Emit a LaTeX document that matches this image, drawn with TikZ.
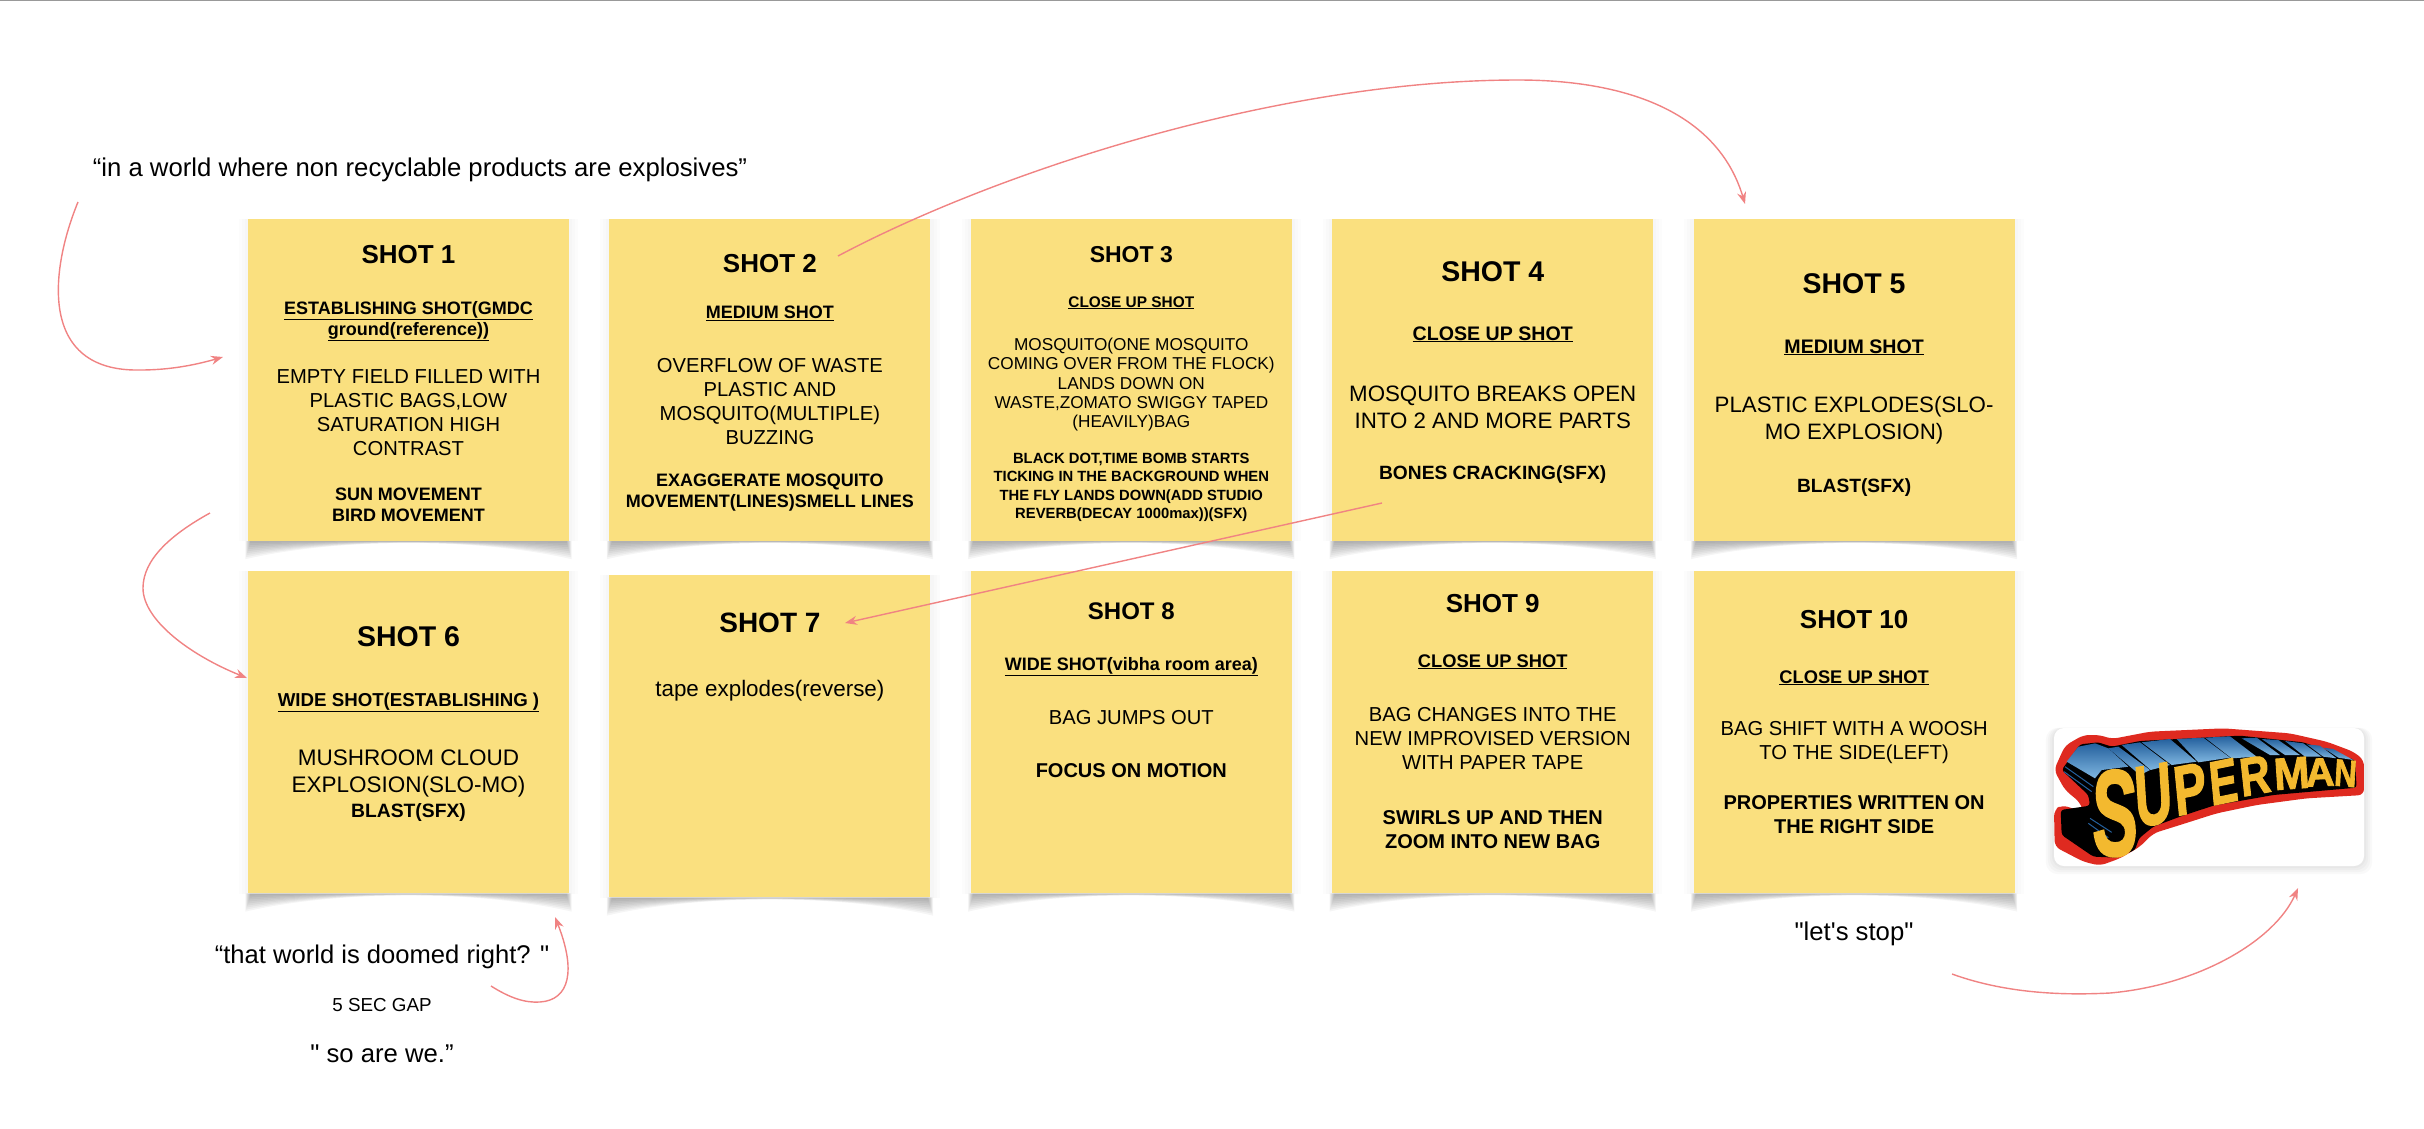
\documentclass[tikz,border=0pt]{standalone}
\usepackage{fontspec}
\setmainfont{Liberation Sans}
\newfontfamily\quotefont{Liberation Sans}
\newfontfamily\logofont{Liberation Sans}[BoldFeatures={FakeBold=2}]
\usetikzlibrary{positioning,calc,arrows.meta,backgrounds}

\definecolor{stickyyellow}{HTML}{FAE07F}
\definecolor{notearrow}{HTML}{F08383}
\definecolor{logored}{HTML}{DF2A20}
\definecolor{logoyellow}{HTML}{F3B92F}
\definecolor{logoblue}{HTML}{25619E}
\definecolor{logosky}{HTML}{7FB6E0}

\tikzset{
  shot/.style={fill=stickyyellow,minimum width=321pt,minimum height=322pt,inner sep=0pt},
  shot-title/.style={font=\bfseries\fontsize{#1}{#1}\selectfont,inner sep=0pt,yshift=-1.5pt},
  shot-kind/.style n args={2}{font=\bfseries\fontsize{#1}{#2}\selectfont,align=center,inner sep=0pt,yshift=-1.5pt},
  shot-body/.style n args={2}{font=\fontsize{#1}{#2}\selectfont,align=center,inner sep=0pt,yshift=-1.5pt},
  shot-sfx/.style n args={2}{font=\bfseries\fontsize{#1}{#2}\selectfont,align=center,inner sep=0pt,yshift=-1.5pt},
  voice/.style={font=\quotefont\fontsize{#1}{#1}\selectfont,inner sep=0pt,yshift=-1.5pt},
  note-arrow/.style={draw=notearrow,line width=1.4pt,-{Stealth[length=12pt,width=9pt]}},
  logo-letter/.style={text=logoyellow,inner sep=0pt,transform shape},
}

\begin{document}
\begin{tikzpicture}[x=1pt,y=-1pt]
\useasboundingbox (0,0) rectangle (2424,1128);
\draw[gray!80,line width=1.5pt] (0,0.5) -- (2424,0.5);

% stickies, first row
\node[shot] (shot1) at (408.5,380) {};
\node[shot,right=40pt of shot1] (shot2) {};
\node[shot,right=40pt of shot2] (shot3) {};
\node[shot,right=40pt of shot3] (shot4) {};
\node[shot,right=40pt of shot4] (shot5) {};
% second row
\node[shot,below=30pt of shot1] (shot6) {};
\node[shot,right=40pt of shot6,yshift=-4pt] (shot7) {};
\node[shot,below=30pt of shot3] (shot8) {};
\node[shot,below=30pt of shot4] (shot9) {};
\node[shot,below=30pt of shot5] (shot10) {};

\begin{scope}[on background layer]
\foreach \s in {shot1,shot2,shot3,shot4,shot5,shot6,shot7,shot8,shot9,shot10} {
  \foreach \g in {3,6,9}
    \fill[black,opacity=0.012] ($(\s.north west)+(-\g,0)$) rectangle ($(\s.south east)+(\g,0)$);
  \foreach \d in {2,4,6,8,10,12,14,16,18}
    \fill[black,opacity=0.04] ($(\s.south west)+(3-0.3*\d,0)$) -- ($(\s.south east)+(-3+0.3*\d,0)$) -- ($(\s.south east)+(-3+0.3*\d,\d)$)
      .. controls ($(\s.south)+(70,-0.2*\d)$) and ($(\s.south)+(-70,-0.2*\d)$) .. ($(\s.south west)+(3-0.3*\d,\d)$) -- cycle;
}
\end{scope}

\node[shot-title=26] (shot1-title) at ($(shot1.north)+(0,34)$) {SHOT 1};
\node[shot-kind={18}{21}] (shot1-kind) at ($(shot1.north)+(0,101)$) {\underline{ESTABLISHING SHOT(GMDC}\\\underline{ground(reference))}};
\node[shot-body={20.2}{24}] (shot1-body) at ($(shot1.north)+(0,192)$) {EMPTY FIELD FILLED WITH\\PLASTIC BAGS,LOW\\SATURATION HIGH\\CONTRAST};
\node[shot-sfx={18}{21}] (shot1-sfx) at ($(shot1.north)+(0,284)$) {SUN MOVEMENT\\BIRD MOVEMENT};

\node[shot-title=26] (shot2-title) at ($(shot2.north)+(0,43.5)$) {SHOT 2};
\node[shot-kind={18}{21}] (shot2-kind) at ($(shot2.north)+(0,93)$) {\underline{MEDIUM SHOT}};
\node[shot-body={20.2}{24}] (shot2-body) at ($(shot2.north)+(0,181)$) {OVERFLOW OF WASTE\\PLASTIC AND\\MOSQUITO(MULTIPLE)\\BUZZING};
\node[shot-sfx={18}{21}] (shot2-sfx) at ($(shot2.north)+(0,272)$) {EXAGGERATE MOSQUITO\\MOVEMENT(LINES)SMELL LINES};

\node[shot-title=23] (shot3-title) at ($(shot3.north)+(0,34)$) {SHOT 3};
\node[shot-kind={15.4}{18}] (shot3-kind) at ($(shot3.north)+(0,82.5)$) {\underline{CLOSE UP SHOT}};
\node[shot-body={17.2}{19.3}] (shot3-body) at ($(shot3.north)+(0,164.5)$) {MOSQUITO(ONE MOSQUITO\\COMING OVER FROM THE FLOCK)\\LANDS DOWN ON\\WASTE,ZOMATO SWIGGY TAPED\\(HEAVILY)BAG};
\node[shot-sfx={14.8}{18.4}] (shot3-sfx) at ($(shot3.north)+(0,267)$) {BLACK DOT,TIME BOMB STARTS\\TICKING IN THE BACKGROUND WHEN\\THE FLY LANDS DOWN(ADD STUDIO\\REVERB(DECAY 1000max))(SFX)};

\node[shot-title=28.5] (shot4-title) at ($(shot4.north)+(0,51)$) {SHOT 4};
\node[shot-kind={19.6}{23}] (shot4-kind) at ($(shot4.north)+(0,114)$) {\underline{CLOSE UP SHOT}};
\node[shot-body={22.3}{26.7}] (shot4-body) at ($(shot4.north)+(0,187)$) {MOSQUITO BREAKS OPEN\\INTO 2 AND MORE PARTS};
\node[shot-sfx={19.2}{23}] (shot4-sfx) at ($(shot4.north)+(0,254)$) {BONES CRACKING(SFX)};

\node[shot-title=28.5] (shot5-title) at ($(shot5.north)+(0,63)$) {SHOT 5};
\node[shot-kind={19.6}{23}] (shot5-kind) at ($(shot5.north)+(0,127)$) {\underline{MEDIUM SHOT}};
\node[shot-body={22.3}{26.7}] (shot5-body) at ($(shot5.north)+(0,200)$) {PLASTIC EXPLODES(SLO-\\MO EXPLOSION)};
\node[shot-sfx={19.2}{23}] (shot5-sfx) at ($(shot5.north)+(0,267)$) {BLAST(SFX)};

\node[shot-title=28.5] (shot6-title) at ($(shot6.north)+(0,63.5)$) {SHOT 6};
\node[shot-kind={18.7}{22}] (shot6-kind) at ($(shot6.north)+(0,129.5)$) {\underline{WIDE SHOT(ESTABLISHING )}};
\node[shot-body={22.5}{27}] (shot6-body) at ($(shot6.north)+(0,201)$) {MUSHROOM CLOUD\\EXPLOSION(SLO-MO)};
\node[shot-sfx={19.3}{23}] (shot6-sfx) at ($(shot6.north)+(0,240)$) {BLAST(SFX)};

\node[shot-title=28] (shot7-title) at ($(shot7.north)+(0,46.5)$) {SHOT 7};
\node[shot-body={22.4}{27}] (shot7-body) at ($(shot7.north)+(0,113.5)$) {tape explodes(reverse)};

\node[shot-title=24] (shot8-title) at ($(shot8.north)+(0,38.5)$) {SHOT 8};
\node[shot-kind={18}{21}] (shot8-kind) at ($(shot8.north)+(0,94)$) {\underline{WIDE SHOT(vibha room area)}};
\node[shot-body={20.2}{24}] (shot8-body) at ($(shot8.north)+(0,145)$) {BAG JUMPS OUT};
\node[shot-sfx={20}{24}] (shot8-sfx) at ($(shot8.north)+(0,198)$) {FOCUS ON MOTION};

\node[shot-title=26] (shot9-title) at ($(shot9.north)+(0,30.5)$) {SHOT 9};
\node[shot-kind={18.3}{22}] (shot9-kind) at ($(shot9.north)+(0,89)$) {\underline{CLOSE UP SHOT}};
\node[shot-body={20.2}{24}] (shot9-body) at ($(shot9.north)+(0,166)$) {BAG CHANGES INTO THE\\NEW IMPROVISED VERSION\\WITH PAPER TAPE};
\node[shot-sfx={20}{24}] (shot9-sfx) at ($(shot9.north)+(0,257)$) {SWIRLS UP AND THEN\\ZOOM INTO NEW BAG};

\node[shot-title=26] (shot10-title) at ($(shot10.north)+(0,46.5)$) {SHOT 10};
\node[shot-kind={18.3}{22}] (shot10-kind) at ($(shot10.north)+(0,105)$) {\underline{CLOSE UP SHOT}};
\node[shot-body={20.2}{24}] (shot10-body) at ($(shot10.north)+(0,170)$) {BAG SHIFT WITH A WOOSH\\TO THE SIDE(LEFT)};
\node[shot-sfx={20}{24}] (shot10-sfx) at ($(shot10.north)+(0,242)$) {PROPERTIES WRITTEN ON\\THE RIGHT SIDE};

% voice over lines
\node[voice=25.7] (line-world) at (420,168) {“in a world where non recyclable products are explosives”};
\node[voice=25.6] (line-doomed) at (382,955) {“that world is doomed right? "};
\node[voice=18.8] (line-gap) at (382,1004) {5 SEC GAP};
\node[voice=25.7] (line-we) at (382,1052) {" so are we.”};
\node[voice=25.7] (line-stop) at (1854,932) {"let's stop"};

% logo card
\node[fill=white,rounded corners=10pt,minimum width=310pt,minimum height=138pt,inner sep=0pt] (logo) at (2209,797) {};
\begin{scope}[on background layer]
\foreach \g in {2,4,6,8}
  \fill[black,opacity=0.025,rounded corners=12pt] ($(logo.north west)+(-\g,0)$) rectangle ($(logo.south east)+(\g,\g)$);
\end{scope}
\begin{scope}[shift={(2040,715)},x=0.3333pt,y=-0.3333pt]
\fill[logored,rounded corners=6pt] (42,165) -- (75,92) -- (130,60) -- (180,60) -- (215,72) -- (330,50) -- (550,40) -- (750,55) -- (860,80) -- (940,110) -- (972,135) -- (972,240) -- (800,250) -- (650,270) -- (530,295) -- (420,330) -- (340,355) -- (300,395) -- (240,430) -- (180,452) -- (130,440) -- (44,395) -- (42,285) -- (65,270) -- (130,290) -- (120,262) -- (75,225) -- cycle;
\fill[black,rounded corners=3pt] (65,165) -- (120,88) -- (175,82) -- (215,95) -- (300,78) -- (600,62) -- (790,82) -- (945,135) -- (950,218) -- (700,240) -- (520,272) -- (420,305) -- (340,335) -- (297,370) -- (285,405) -- (230,428) -- (160,425) -- (65,360) -- (62,285) -- (150,272) -- (145,240) -- cycle;
\foreach \ax/\ay/\bx/\by/\cx/\cy/\dx/\dy in {205/100/235/95/330/165/300/180, 245/90/300/82/390/150/332/165, 305/82/390/72/470/140/395/150, 410/72/490/68/570/128/475/142, 495/68/570/64/650/125/575/130, 605/70/650/68/720/120/690/120, 665/72/715/75/780/120/735/120, 735/78/790/85/845/125/795/125, 800/88/840/92/890/130/850/125, 850/98/880/102/940/135/895/128}
  \shade[top color=logoblue,bottom color=logosky] (\ax,\ay) -- (\bx,\by) -- (\cx,\cy) -- (\dx,\dy) -- cycle;
\shade[top color=logoblue,bottom color=logosky] (80,140) -- (115,95) -- (165,85) -- (205,100) -- (265,155) -- (185,165) -- (165,190) -- cycle;
\foreach \ax/\ay/\bx/\by in {75/155/160/215, 72/170/155/230, 150/310/215/352, 145/325/205/368}
  \draw[logoblue,line width=1pt] (\ax,\ay) -- (\bx,\by);
\foreach \x/\y/\f/\sx/\r/\l in {225/295/122/0.56/0/S, 340/240/86/0.6/6/U, 450/222/70/0.7/8/P, 550/200/62/0.68/8/E, 645/182/54/0.78/8/R, 755/175/45/0.95/4/M, 840/172/40/1.0/2/A, 917/175/38/0.82/-4/N}
  \node[logo-letter,font=\logofont\bfseries\fontsize{\f}{\f}\selectfont,xscale=\sx,rotate=\r] (logo-\l) at (\x,\y) {\l};
\end{scope}

% connectors
\coordinate (world-tail) at (78,202);
\coordinate (world-bend) at (140,370);
\coordinate (world-head) at (223,357);
\coordinate (one-tail) at (210,513);
\coordinate (one-bend) at (143,588);
\coordinate (six-head) at (247,678);
\coordinate (two-tail) at (838,256);
\coordinate (two-bend) at (1518,80);
\coordinate (five-head) at (1745,204);
\coordinate (four-tail) at (1382,503);
\coordinate (seven-head) at (845,623);
\coordinate (gap-tail) at (491,986);
\coordinate (gap-bend) at (540,1002);
\coordinate (six-foot) at (555,917);
\coordinate (stop-tail) at (1952,974);
\coordinate (stop-bend) at (2110,993);
\coordinate (logo-foot) at (2298,888);

\draw[note-arrow] (world-tail) .. controls (50,270) and (38,372) .. (world-bend) .. controls (170,370) and (195,365) .. (world-head);
\draw[note-arrow] (one-tail) .. controls (170,535) and (143,560) .. (one-bend) .. controls (143,620) and (190,655) .. (six-head);
\draw[note-arrow] (two-tail) .. controls (1000,170) and (1280,80) .. (two-bend) .. controls (1640,80) and (1720,120) .. (five-head);
\draw[note-arrow] (four-tail) -- (seven-head);
\draw[note-arrow] (gap-tail) .. controls (510,998) and (525,1003) .. (gap-bend) .. controls (570,1000) and (576,970) .. (six-foot);
\draw[note-arrow] (stop-tail) .. controls (2010,995) and (2070,995) .. (stop-bend) .. controls (2200,985) and (2275,940) .. (logo-foot);
\end{tikzpicture}
\end{document}
